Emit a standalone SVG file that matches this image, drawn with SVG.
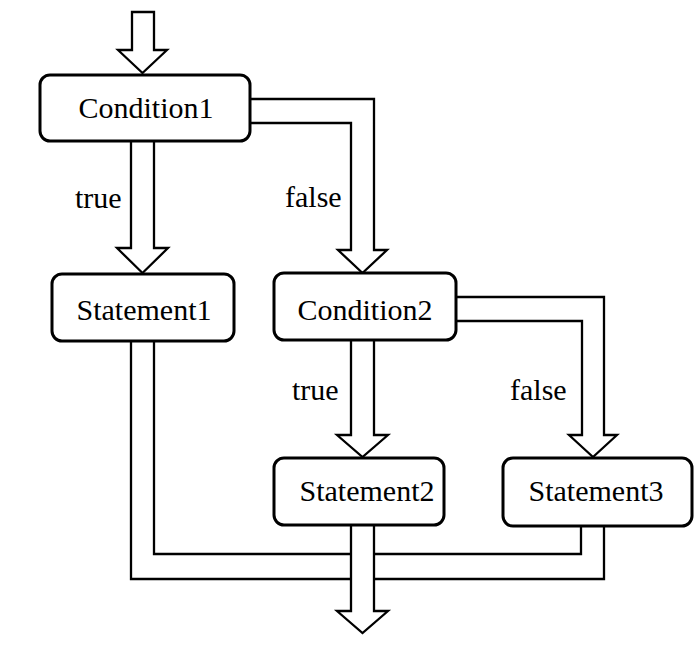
<svg xmlns="http://www.w3.org/2000/svg" width="696" height="646" viewBox="0 0 696 646">
<style>
.box{fill:#fff;stroke:#000;stroke-width:3}
.conn{fill:#fff;stroke:#000;stroke-width:2.3;stroke-linejoin:miter}
.line{fill:none;stroke:#000;stroke-width:2.3}
.t{font-family:"Liberation Serif","Times New Roman",serif;font-size:30px;fill:#000}
.c{text-anchor:middle}
</style>
<rect width="696" height="646" fill="#fff"/>
<g id="connectors">
<path class="conn" d="M132,12 H154 V50 H167 L142.5,73 L118,50 H132 Z"/>
<path class="conn" d="M131,141 V248 H117 L142.5,273 L168,248 H154 V141"/>
<path class="conn" d="M250,99 H374 V250 H387 L362.5,273 L338,250 H351 V123 H250"/>
<path class="conn" d="M351,340 V435 H337 L362.5,457 L388,435 H374 V340"/>
<path class="conn" d="M456,297 H604 V435 H617 L593,457 L569,435 H582 V321 H456"/>
<path class="line" d="M131,341 V579 H351 M374,579 H604 V526"/>
<path class="line" d="M154,341 V554 H351 M374,554 H581 V526"/>
<path class="conn" d="M351,525 V611 H337 L362.5,633 L388,611 H374 V525"/>
<text class="t" x="75" y="208">true</text>
<text class="t" x="285" y="207">false</text>
<text class="t" x="292" y="400">true</text>
<text class="t" x="510" y="400">false</text>
</g>
<g id="condition1">
<rect class="box" x="40" y="75" width="210" height="66" rx="10"/>
<text class="t c" x="146" y="118">Condition1</text>
</g>
<g id="statement1">
<rect class="box" x="52" y="274" width="182" height="67" rx="10"/>
<text class="t c" x="144" y="320">Statement1</text>
</g>
<g id="condition2">
<rect class="box" x="274" y="273" width="182" height="67" rx="10"/>
<text class="t c" x="365" y="320">Condition2</text>
</g>
<g id="statement2">
<rect class="box" x="274" y="458" width="170" height="67" rx="10"/>
<text class="t c" x="367" y="501">Statement2</text>
</g>
<g id="statement3">
<rect class="box" x="503" y="458" width="189" height="68" rx="10"/>
<text class="t c" x="596" y="501">Statement3</text>
</g>
</svg>
